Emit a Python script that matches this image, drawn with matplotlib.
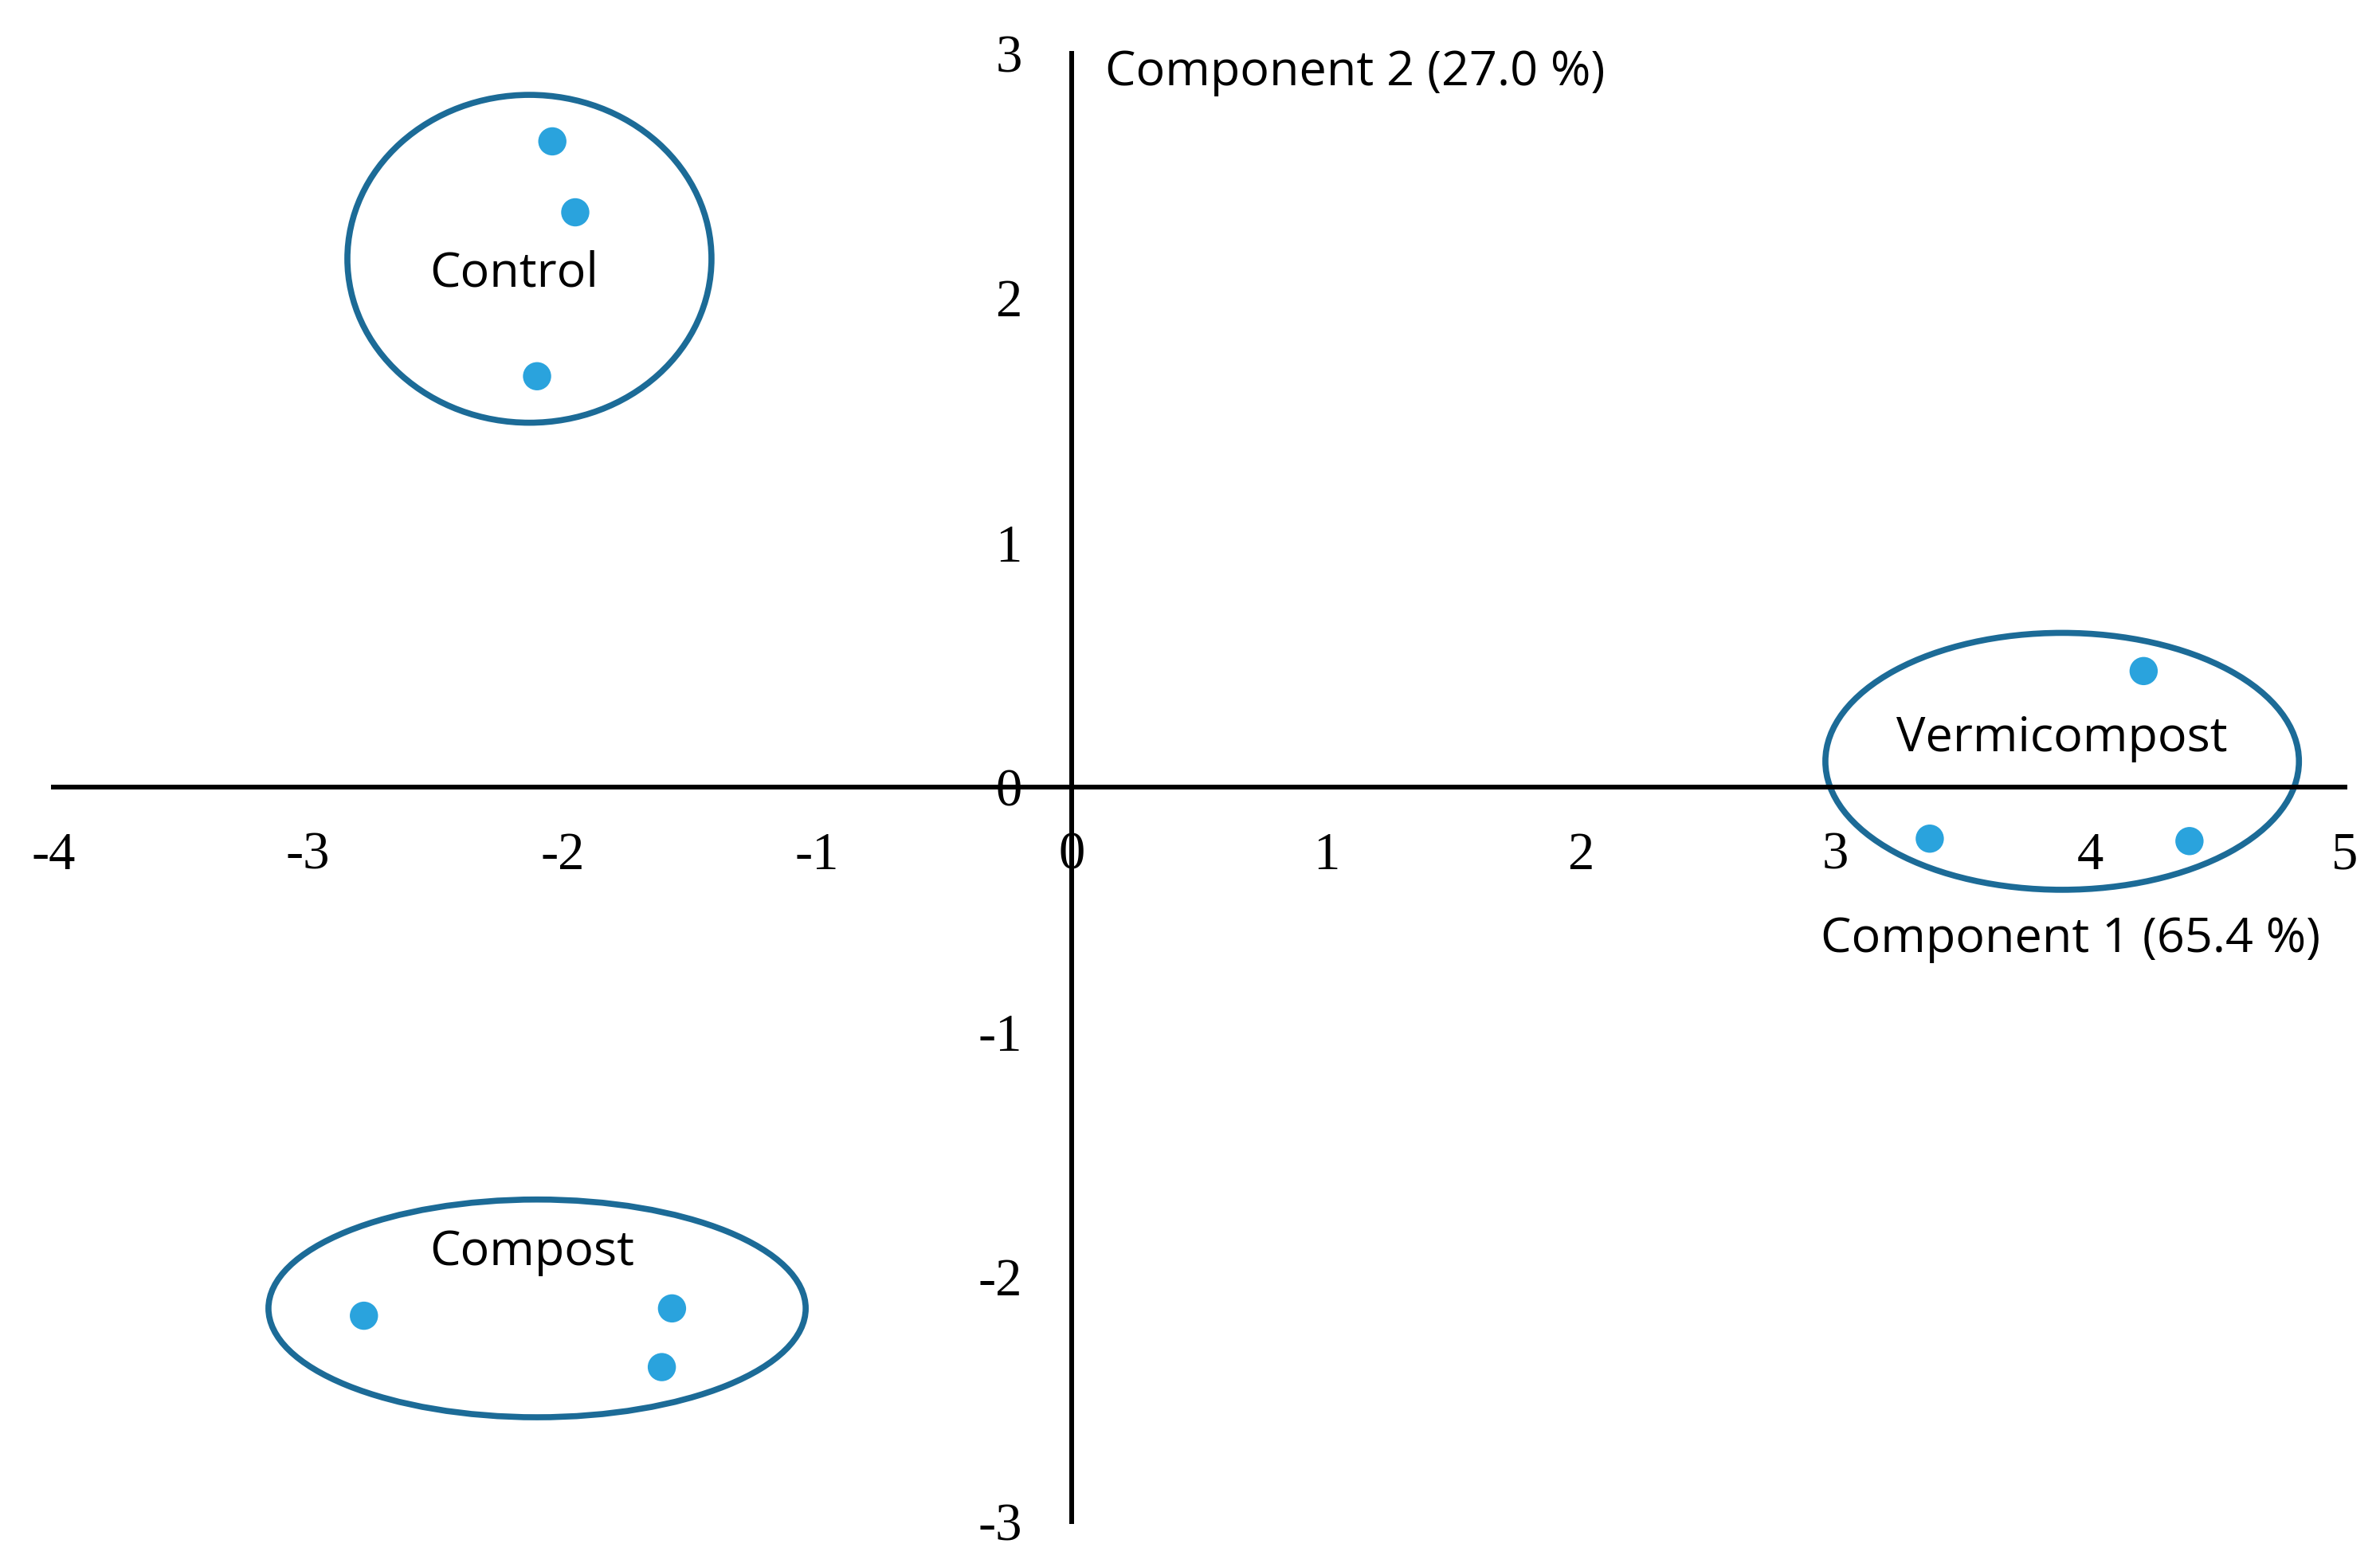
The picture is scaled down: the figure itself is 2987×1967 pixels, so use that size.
import matplotlib
matplotlib.use("Agg")
import matplotlib.pyplot as plt
from matplotlib.patches import Ellipse

control_x = [-2.04, -1.95, -2.10]
control_y = [2.64, 2.35, 1.68]
compost_x = [-2.78, -1.57, -1.61]
compost_y = [-2.16, -2.13, -2.37]
vermi_x = [4.21, 3.37, 4.39]
vermi_y = [0.475, -0.21, -0.22]

ticks_x = [-4, -3, -2, -1, 0, 1, 2, 3, 4, 5]
ticks_y = [-3, -2, -1, 0, 1, 2, 3]

fig = plt.figure(figsize=(29.87, 19.67), dpi=100)
ax = fig.add_axes([0.0224, 0.0292, 0.9628, 0.9368])
ax.set_xlim(-4, 5)
ax.set_ylim(-3, 3)
for s in ["top", "right"]:
    ax.spines[s].set_visible(False)
ax.spines["left"].set_position(("data", 0))
ax.spines["bottom"].set_position(("data", 0))
for s in ["left", "bottom"]:
    ax.spines[s].set_linewidth(4.3)
ax.set_xticks(ticks_x)
ax.set_yticks(ticks_y)
ax.set_xticklabels([str(t) for t in ticks_x], family="Liberation Serif", fontsize=48)
ax.set_yticklabels([str(t) for t in ticks_y], family="Liberation Serif", fontsize=48)
ax.tick_params(axis="x", length=0, pad=40)
ax.tick_params(axis="y", length=0, pad=45)
ax.patch.set_alpha(0)

ec = "#1c6b97"
ax.add_patch(Ellipse((-2.13, 2.16), 1.43, 1.34, fill=False, ec=ec, lw=5.5))
ax.add_patch(Ellipse((-2.10, -2.13), 2.11, 0.89, fill=False, ec=ec, lw=5.5))
ax.add_patch(Ellipse((3.89, 0.106), 1.86, 1.05, fill=False, ec=ec, lw=5.5))

pc = "#2aa3dd"
for xs, ys in [(control_x, control_y), (compost_x, compost_y), (vermi_x, vermi_y)]:
    ax.scatter(xs, ys, s=650, c=pc, zorder=5, edgecolors="none")

tf = dict(family="Open Sans", fontsize=44)
ax.text(-2.19, 2.10, "Control", ha="center", va="center", **tf)
ax.text(-2.12, -1.90, "Compost", ha="center", va="center", **tf)
ax.text(3.89, 0.20, "Vermicompost", ha="center", va="center", **tf)
ax.text(0.13, 2.92, "Component 2 (27.0 %)", ha="left", va="center", **tf)
ax.text(2.94, -0.62, "Component 1 (65.4 %)", ha="left", va="center", **tf)

fig.savefig("out.png", dpi=100)
